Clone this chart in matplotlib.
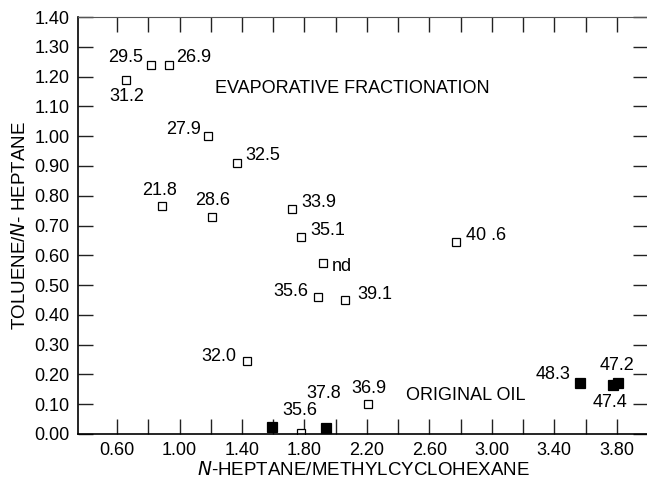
import numpy as np
import matplotlib.pyplot as plt

plt.rcParams['font.family'] = ['Liberation Sans', 'DejaVu Sans']

# open squares: evaporative fractionation samples
open_x = [0.66, 0.82, 0.93, 1.18, 1.37, 0.89, 1.21, 1.72, 1.78, 1.92,
          1.89, 2.06, 2.77, 1.43, 1.78, 2.21]
open_y = [1.19, 1.24, 1.24, 1.00, 0.91, 0.765, 0.73, 0.755, 0.66, 0.575,
          0.46, 0.45, 0.645, 0.245, 0.005, 0.10]
open_lab = ['31.2', '29.5', '26.9', '27.9', '32.5', '21.8', '28.6', '33.9', '35.1', 'nd',
            '35.6', '39.1', '40 .6', '32.0', '35.6', '36.9']
# label offsets in pixels (dx, dy, ha)
open_off = [(0, -17, 'center'), (-8, 7, 'right'), (8, 7, 'left'), (-7, 7, 'right'),
            (8, 7, 'left'), (-3, 16, 'center'), (0, 16, 'center'), (9, 7, 'left'),
            (9, 7, 'left'), (9, -4, 'left'), (-10, 5, 'right'), (12, 5, 'left'),
            (10, 6, 'left'), (-10, 5, 'right'), (-1, 22, 'center'), (0, 16, 'center')]

# filled squares: original oils
fill_x = [1.595, 1.935, 3.565, 3.775, 3.81]
fill_y = [0.025, 0.02, 0.17, 0.165, 0.17]
fill_lab = ['', '37.8', '48.3', '47.4', '47.2']
fill_off = [(0, 0, 'center'), (-2, 35, 'center'), (-10, 9, 'right'), (-3, -18, 'center'),
            (-1, 18, 'center')]

fs = 13

fig = plt.figure(figsize=(6.47, 4.82), dpi=100)
ax = fig.add_axes([78 / 647, 48 / 482, 570 / 647, 417 / 482])

ax.plot(open_x, open_y, 's', mfc='white', mec='black', ms=6.3, mew=0.9, ls='none')
ax.plot(fill_x, fill_y, 's', mfc='black', mec='black', ms=6.8, mew=0.9, ls='none')

for x, y, t, (dx, dy, ha) in zip(open_x, open_y, open_lab, open_off):
    ax.annotate(t, (x, y), xytext=(dx * 0.72, dy * 0.72), textcoords='offset points',
                ha=ha, va='center', fontsize=fs)
for x, y, t, (dx, dy, ha) in zip(fill_x, fill_y, fill_lab, fill_off):
    if t:
        ax.annotate(t, (x, y), xytext=(dx * 0.72, dy * 0.72), textcoords='offset points',
                    ha=ha, va='center', fontsize=fs)

ax.text(2.105, 1.16, 'EVAPORATIVE FRACTIONATION', ha='center', va='center', fontsize=fs)
ax.text(2.835, 0.128, 'ORIGINAL OIL', ha='center', va='center', fontsize=fs)

ax.set_xlim(0.35, 4.0)
ax.set_ylim(0, 1.4)
ax.set_xticks(np.arange(0.6, 3.81, 0.4))
ax.set_xticklabels(['%.2f' % v for v in np.arange(0.6, 3.81, 0.4)])
ax.set_xticks(np.arange(0.6, 3.81, 0.2), minor=True)
ax.set_yticks(np.arange(0, 1.41, 0.1))
ax.set_yticklabels(['%.2f' % v for v in np.arange(0, 1.41, 0.1)])

ax.tick_params(which='both', direction='in', top=True, right=True, length=10.5,
               width=1.0, color='#222222', labelsize=fs, pad=6)
for s in ax.spines.values():
    s.set_linewidth(1.2)
ax.spines['top'].set_linewidth(0.8)
ax.spines['top'].set_color('#555555')

ax.set_xlabel(r'$\mathit{N}$-HEPTANE/METHYLCYCLOHEXANE', fontsize=fs + 0.5, labelpad=1)
ax.set_ylabel(r'TOLUENE/$\mathit{N}$- HEPTANE', fontsize=fs + 0.5, labelpad=4)

fig.savefig('out.png', dpi=100)
